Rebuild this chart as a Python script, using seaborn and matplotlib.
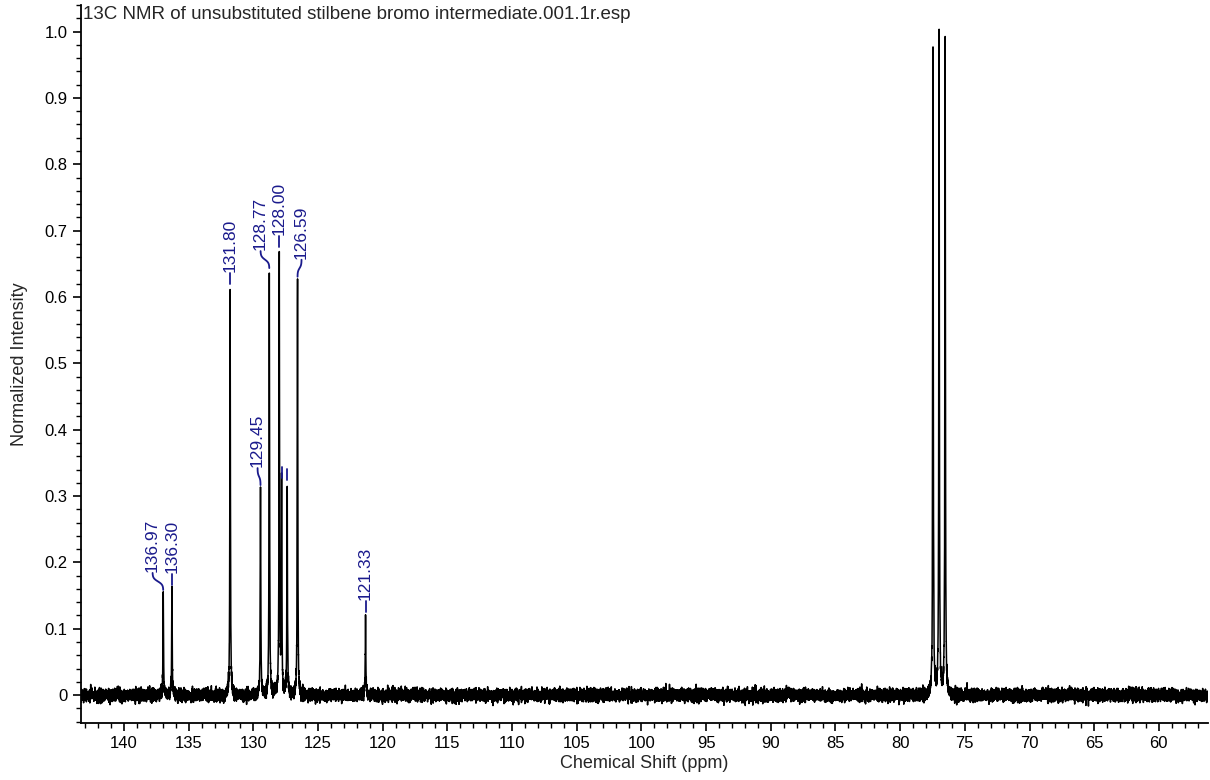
import numpy as np
import pandas as pd
import seaborn as sns
import matplotlib.pyplot as plt
from matplotlib.ticker import MultipleLocator, FuncFormatter

# peak positions (ppm) and normalized heights
peak_ppm = [136.97, 136.30, 131.80, 129.45, 128.77, 128.00, 127.82, 127.39, 126.59, 121.33,
            77.46, 76.99, 76.52]
peak_height = [0.151, 0.158, 0.612, 0.309, 0.636, 0.668, 0.320, 0.317, 0.623, 0.118,
               0.975, 1.0, 0.982]

# peak labels: text and where the label sits (ppm)
label_ppm = [136.97, 136.30, 131.80, 129.45, 128.77, 128.00, 127.82, 127.39, 126.59, 121.33]
label_pos = [137.80, 136.30, 131.80, 129.68, 129.45, 128.00, 127.82, 127.39, 126.28, 121.33]
label_text = ["136.97", "136.30", "131.80", "129.45", "128.77", "128.00", "", "", "126.59", "121.33"]

title = "13C NMR of unsubstituted stilbene bromo intermediate.001.1r.esp"
x_lo, x_hi = 56.2, 143.33
y_lo, y_hi = -0.042, 1.04
blue = "#1a1a8c"

# build the trace from the peak list (lorentzian lines + baseline noise)
ppm = np.arange(x_lo, x_hi, 0.004)
hw = 0.024
inten = np.zeros_like(ppm)
for p, h in zip(peak_ppm, peak_height):
    inten += h / (1 + ((ppm - p) / hw) ** 2)
rng = np.random.default_rng(7)
inten += rng.normal(0, 0.0045, ppm.size)
spec = pd.DataFrame({"ppm": ppm, "intensity": inten})

sns.set_theme(style="ticks")
plt.rcParams["font.family"] = ["Liberation Sans", "DejaVu Sans"]

fig = plt.figure(figsize=(12.1, 7.8), dpi=100)
ax = fig.add_axes([81 / 1210, 57 / 780, 1127 / 1210, 718 / 780])
sns.lineplot(data=spec, x="ppm", y="intensity", ax=ax, color="black",
             linewidth=1.1, estimator=None, sort=False)

ax.set_xlim(x_hi, x_lo)
ax.set_ylim(y_lo, y_hi)
ax.xaxis.set_major_locator(MultipleLocator(5))
ax.xaxis.set_minor_locator(MultipleLocator(1))
ax.yaxis.set_major_locator(MultipleLocator(0.1))
ax.yaxis.set_minor_locator(MultipleLocator(0.02))
ax.yaxis.set_major_formatter(FuncFormatter(lambda v, _: "0" if abs(v) < 1e-9 else f"{v:.1f}"))
ax.tick_params(which="major", length=6, width=1.2, labelsize=12, color="black", labelcolor="black")
ax.tick_params(which="minor", length=3.5, width=1.0, color="black")
for s in ["top", "right"]:
    ax.spines[s].set_visible(False)
for s in ["left", "bottom"]:
    ax.spines[s].set_linewidth(1.3)
    ax.spines[s].set_color("black")
ax.set_xlabel("Chemical Shift (ppm)", fontsize=13, labelpad=3)
ax.set_ylabel("Normalized Intensity", fontsize=13, labelpad=12)
ax.text(0.002, 0.987, title, transform=ax.transAxes, fontsize=13.5, va="center", ha="left")

# pixel -> data conversions for the label connectors
fig.canvas.draw()
bb = ax.get_window_extent()
ppx = (y_hi - y_lo) / bb.height

heights = dict(zip(peak_ppm, peak_height))
for p, lx, txt in zip(label_ppm, label_pos, label_text):
    y0 = heights[p] + 5 * ppx
    if abs(lx - p) < 1e-6:
        L = 11 * ppx
        ax.plot([p, p], [y0, y0 + L], color=blue, lw=1.3)
    else:
        L = 17 * ppx
        t = np.linspace(0, 1, 30)
        s = 1 / (1 + np.exp(-(t - 0.5) * 10))
        ax.plot(p + (lx - p) * s, y0 + L * t, color=blue, lw=1.3)
    if txt:
        ax.text(lx, y0 + L + 1 * ppx, txt, rotation=90, ha="center", va="bottom",
                fontsize=12.5, color=blue)

fig.savefig("out.png", dpi=100)
